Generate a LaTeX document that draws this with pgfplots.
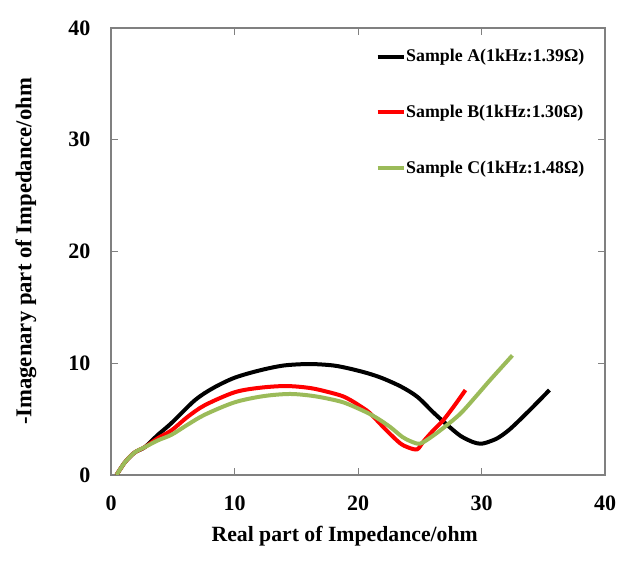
\documentclass[border=0pt]{standalone}
\usepackage{pgfplots}
\pgfplotsset{compat=1.18}
\usepackage{fontspec}
\setmainfont{Liberation Serif}

\definecolor{sampleC}{HTML}{9BBB59}
\definecolor{frame}{HTML}{808080}

\begin{document}
\begin{tikzpicture}
% picture size = 641 x 566 px at 0.75pt per px
\useasboundingbox (-83.25pt,-68.25pt) rectangle (397.5pt,356.25pt);
\begin{axis}[
  at={(0,0)}, anchor=south west,
  scale only axis,
  width=370.5pt, height=335.25pt,
  xmin=0, xmax=40, ymin=0, ymax=40,
  xtick={0,10,20,30,40}, ytick={0,10,20,30,40},
  tick align=inside,
  major tick length=5pt,
  axis line style={frame, line width=0.9pt},
  tick style={frame, line width=0.6pt},
  every tick label/.append style={font=\fontsize{16.5}{19}\selectfont\bfseries},
  /pgf/number format/assume math mode=true,
  xticklabel style={yshift=-12pt},
  yticklabel style={xshift=-12pt},
  xlabel={Real part of Impedance/ohm},
  ylabel={-Imagenary part of Impedance/ohm},
  xlabel style={font=\fontsize{16.3}{19}\selectfont\bfseries, xshift=-10pt, yshift=-5pt},
  ylabel style={font=\fontsize{17}{20}\selectfont\bfseries, yshift=17pt},
  legend style={draw=none, fill=none, at={(0.535,0.9585)}, anchor=north west,
    font=\fontsize{13.4}{15}\selectfont\bfseries, row sep=27pt,
    inner xsep=0pt, inner ysep=0pt,
    nodes={inner xsep=0pt}},
  legend cell align=left,
  legend image code/.code={\draw[#1, line width=3pt] (0pt,0pt) -- (20pt,0pt);},
  every axis plot/.append style={line width=3pt, smooth, line join=round},
]

\addplot[black] coordinates {
(0.45,0) (1.1,1.1) (1.9,2.0) (2.75,2.5) (3.8,3.6) (4.9,4.65) (6.8,6.7) (8.3,7.8)
(10.0,8.7) (12,9.35) (14,9.8) (16.1,9.93) (18,9.8) (19.4,9.5) (20.8,9.1)
(22.0,8.65) (23.5,7.9) (24.8,7.0) (26.1,5.6) (27.2,4.5) (28.3,3.5) (29.3,2.95)
(29.9,2.8) (30.4,2.9) (31.3,3.3) (32.3,4.1) (33.9,5.8) (35.5,7.6)
};
\addplot[red] coordinates {
(0.45,0) (1.1,1.1) (1.9,2.0) (2.75,2.5) (3.8,3.3) (4.9,4.0) (6.2,5.2) (7.6,6.25)
(10.0,7.4) (12,7.8) (14.2,7.96) (16.3,7.75) (18.5,7.15) (19.4,6.7) (20.4,6.0)
(21.0,5.5) (22.3,4.0) (23.4,2.85) (24.1,2.45) (24.8,2.3) (25.3,3.0) (26.1,4.0)
(26.9,4.9) (27.8,6.2) (28.7,7.6)
};
\addplot[sampleC] coordinates {
(0.45,0) (1.1,1.1) (1.9,2.0) (2.75,2.5) (3.8,3.1) (4.9,3.6) (6.2,4.5) (7.6,5.4)
(10.0,6.5) (12.3,7.05) (14.5,7.25) (16.5,7.05) (18.5,6.6) (19.5,6.2) (20.7,5.6)
(21.6,5.05) (22.6,4.3) (23.6,3.4) (24.3,3.0) (25.0,2.8) (25.8,3.3) (26.9,4.2)
(28.3,5.5) (29.6,7.1) (30.7,8.5) (32.5,10.7)
};
\legend{Sample A(1kHz:1.39Ω), Sample B(1kHz:1.30Ω), Sample C(1kHz:1.48Ω)}
\end{axis}
\end{tikzpicture}
\end{document}
